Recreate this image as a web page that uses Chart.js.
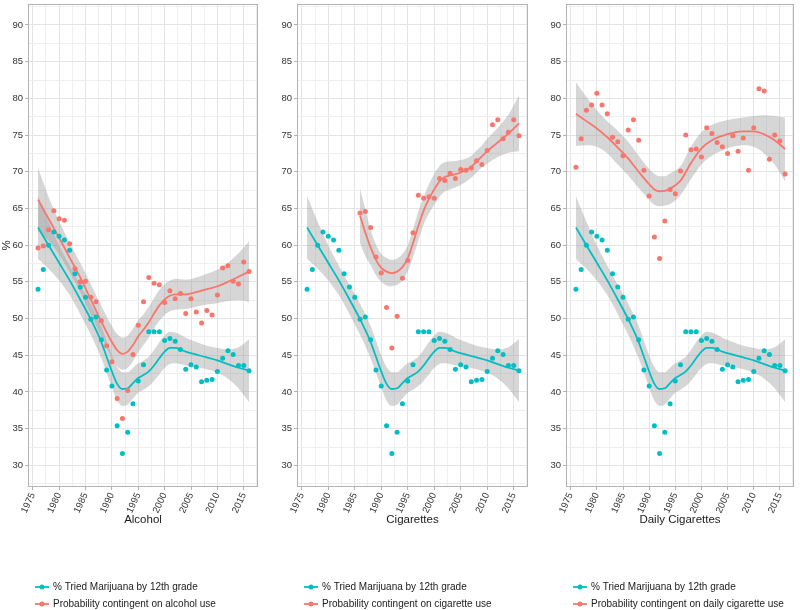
<!DOCTYPE html>
<html>
<head>
<meta charset="utf-8">
<script src="https://cdn.jsdelivr.net/npm/chart.js@4.4.1/dist/chart.umd.min.js"></script>
<style>
  html, body { margin: 0; padding: 0; background: #fff; }
  #wrap { position: relative; width: 800px; height: 610px; }
  #wrap canvas { position: absolute; top: 0; }
</style>
</head>
<body>
<div id="wrap">
  <canvas id="alcohol" width="262" height="610" style="left:0px"></canvas>
  <canvas id="cigarettes" width="264" height="610" style="left:268px"></canvas>
  <canvas id="daily" width="264" height="610" style="left:536px"></canvas>
</div>
<script>
// ---- data ----
const years = [1976, 1977, 1978, 1979, 1980, 1981, 1982, 1983, 1984, 1985, 1986, 1987, 1988, 1989, 1990,
  1991, 1992, 1993, 1994, 1995, 1996, 1997, 1998, 1999, 2000, 2001, 2002, 2003, 2004, 2005, 2006, 2007,
  2008, 2009, 2010, 2011, 2012, 2013, 2014, 2015, 2016];

const triedMarijuana = [54.0, 56.7, 60.0, 61.8, 61.2, 60.7, 59.3, 56.1, 54.3, 52.9, 49.9, 50.2, 47.1, 43.0, 40.8,
  35.4, 31.6, 34.5, 38.4, 41.5, 43.7, 48.2, 48.2, 48.2, 47.0, 47.3, 46.9, 45.8, 43.1, 43.7, 43.4, 41.4,
  41.6, 41.7, 42.8, 44.6, 45.6, 45.1, 43.6, 43.6, 42.9];

const alcoholProb = [59.6, 59.9, 62.1, 64.7, 63.6, 63.4, 60.2, 56.8, 55.0, 55.1, 52.9, 52.3, 49.7, 46.3, 44.1,
  39.1, 36.4, 40.2, 45.1, 49.1, 52.3, 55.6, 54.8, 54.6, 52.2, 53.8, 52.7, 53.4, 50.7, 52.7, 50.9, 49.4,
  51.1, 50.5, 53.2, 56.9, 57.2, 55.1, 54.7, 57.7, 56.4];

const cigaretteYears = [1986, 1987, 1988, 1989, 1990, 1991, 1992, 1993, 1994, 1995, 1996, 1997, 1998, 1999, 2000,
  2001, 2002, 2003, 2004, 2005, 2006, 2007, 2008, 2009, 2010, 2011, 2012, 2013, 2014, 2015, 2016];
const cigaretteProb = [64.4, 64.6, 62.4, 58.4, 56.2, 51.5, 46.0, 50.3, 55.5, 57.9, 61.7, 66.8, 66.4, 66.6, 66.4,
  69.1, 68.8, 69.8, 69.1, 70.3, 70.2, 70.5, 71.5, 71.0, 72.9, 76.4, 77.1, 74.5, 75.4, 77.1, 74.9];

const dailyProb = [70.6, 74.5, 78.4, 79.1, 80.7, 79.1, 77.9, 74.7, 74.1, 72.2, 75.7, 77.1, 74.3, 70.2, 66.7,
  61.1, 58.2, 63.3, 67.6, 67.0, 70.1, 75.0, 73.0, 73.1, 72.0, 76.0, 75.2, 74.0, 73.4, 72.5, 74.9, 72.8,
  74.6, 70.2, 76.0, 81.3, 81.0, 71.7, 75.0, 74.2, 69.7];

// loess fits and their confidence bands
const tealFitYears = [1976, 1978, 1980, 1982, 1984, 1986, 1988, 1989, 1990, 1991, 1992, 1993, 1994, 1995, 1996,
  1997, 1998, 1999, 2000, 2001, 2002, 2003, 2004, 2006, 2008, 2010, 2012, 2014, 2016];
const tealFit = [62.4, 60.0, 57.6, 55.2, 52.6, 49.9, 46.8, 44.8, 42.8, 41.1, 40.4, 40.5, 41.2, 41.9, 42.3,
  42.8, 43.6, 44.6, 45.5, 46.0, 46.0, 45.8, 45.5, 45.1, 44.7, 44.3, 43.8, 43.3, 42.9];
const tealLow = [58.1, 56.8, 55.2, 53.2, 50.6, 47.8, 44.6, 42.6, 40.6, 38.8, 38.1, 38.3, 39.1, 39.9, 40.3,
  40.8, 41.5, 42.4, 43.3, 43.8, 43.9, 43.8, 43.6, 43.4, 43.1, 42.6, 41.8, 40.5, 38.6];
const tealHigh = [66.7, 63.2, 60.0, 57.2, 54.6, 52.0, 49.0, 47.0, 45.0, 43.4, 42.7, 42.7, 43.3, 43.9, 44.3,
  44.8, 45.7, 46.8, 47.7, 48.2, 48.1, 47.8, 47.4, 46.8, 46.3, 46.0, 45.8, 46.1, 47.2];

const alcoholFitYears = [1976, 1978, 1980, 1982, 1984, 1986, 1988, 1990, 1991, 1992, 1993, 1994, 1995, 1996,
  1997, 1998, 1999, 2000, 2001, 2002, 2004, 2006, 2008, 2010, 2012, 2014, 2016];
const alcoholFit = [66.2, 63.6, 61.0, 58.3, 55.6, 52.6, 49.6, 46.8, 45.7, 45.2, 45.5, 46.4, 47.6, 48.5,
  49.5, 50.7, 51.8, 52.6, 53.1, 53.3, 53.3, 53.6, 54.0, 54.4, 55.0, 55.7, 56.4];
const alcoholLow = [61.9, 60.6, 58.7, 56.3, 53.6, 50.5, 47.5, 44.6, 43.5, 43.0, 43.3, 44.2, 45.4, 46.4,
  47.4, 48.6, 49.7, 50.5, 51.0, 51.2, 51.3, 51.6, 51.9, 52.1, 52.4, 52.5, 52.3];
const alcoholHigh = [70.5, 66.6, 63.3, 60.3, 57.6, 54.7, 51.7, 49.0, 47.9, 47.4, 47.7, 48.6, 49.8, 50.6,
  51.6, 52.8, 53.9, 54.7, 55.2, 55.4, 55.3, 55.6, 56.1, 56.7, 57.6, 58.9, 60.5];

const cigFitYears = [1986, 1987, 1988, 1989, 1990, 1991, 1992, 1993, 1994, 1995, 1996, 1997, 1998, 1999, 2000,
  2001, 2002, 2003, 2005, 2007, 2008, 2009, 2010, 2012, 2014, 2016];
const cigFit = [64.0, 61.7, 59.7, 58.0, 56.9, 56.4, 56.2, 56.4, 57.0, 58.2, 60.3, 62.6, 64.7, 66.3, 67.6,
  68.7, 69.3, 69.5, 69.9, 70.7, 71.4, 72.1, 72.8, 74.0, 75.2, 76.6];
const cigLow = [60.3, 58.5, 57.3, 55.9, 55.0, 54.5, 54.4, 54.6, 55.2, 56.4, 58.4, 60.6, 62.8, 64.3, 65.5,
  66.6, 67.3, 67.6, 68.2, 69.2, 69.9, 70.6, 71.1, 72.0, 72.6, 72.8];
const cigHigh = [67.7, 64.9, 62.1, 60.1, 58.8, 58.3, 58.0, 58.2, 58.8, 60.0, 62.2, 64.6, 66.6, 68.3, 69.7,
  70.8, 71.3, 71.4, 71.6, 72.2, 72.9, 73.6, 74.5, 76.0, 77.8, 80.4];

const dailyFitYears = [1976, 1978, 1980, 1982, 1984, 1986, 1988, 1990, 1991, 1992, 1993, 1994, 1996, 1998,
  2000, 2002, 2004, 2006, 2008, 2010, 2012, 2014, 2016];
const dailyFit = [77.9, 76.9, 75.9, 74.7, 73.3, 71.8, 70.0, 68.3, 67.6, 67.35, 67.4, 67.7, 68.8, 71.2,
  73.2, 74.3, 74.9, 75.3, 75.5, 75.5, 75.1, 74.3, 73.1];
const dailyLow = [73.5, 73.6, 73.4, 72.5, 71.0, 69.5, 67.8, 66.2, 65.5, 65.3, 65.4, 65.6, 66.8, 69.0,
  71.0, 72.2, 72.9, 73.4, 73.6, 73.4, 72.5, 71.0, 68.7];
const dailyHigh = [82.2, 80.2, 78.4, 76.9, 75.6, 74.1, 72.2, 70.4, 69.7, 69.4, 69.4, 69.8, 70.8, 73.4,
  75.4, 76.4, 76.9, 77.2, 77.4, 77.6, 77.7, 77.6, 77.4];

const xTickLabels = [1975, 1980, 1985, 1990, 1995, 2000, 2005, 2010, 2015];
const yTickLabels = [30, 35, 40, 45, 50, 55, 60, 65, 70, 75, 80, 85, 90];

// ---- styling ----
const TEAL = '#00BFC4';
const SALMON = '#F8766D';
const BAND = 'rgba(153,153,153,0.4)';
const FONT = "'Liberation Sans', Arial, sans-serif";
const NONE = 'rgba(0,0,0,0)';

// major ticks plus the minor lines half way between them
const xGrid = [];
xTickLabels.forEach(v => { xGrid.push(v, v + 2.5); });
const yGrid = [27.5];
yTickLabels.forEach(v => { yGrid.push(v, v + 2.5); });

function pts(xs, ys) {
  return xs.map((x, i) => ({ x: x, y: ys[i] }));
}

const panelBorder = {
  id: 'panelBorder',
  afterDatasetsDraw(chart) {
    const a = chart.chartArea;
    const ctx = chart.ctx;
    ctx.save();
    ctx.strokeStyle = '#b3b3b3';
    ctx.lineWidth = 1;
    ctx.strokeRect(Math.round(a.left) + 0.5, Math.round(a.top) + 0.5,
      Math.round(a.right - a.left) - 1, Math.round(a.bottom - a.top) - 1);
    ctx.restore();
  }
};

// ggplot-like legend: line key with a dot, one item per row
const facetLegend = {
  id: 'facetLegend',
  afterDraw(chart, args, opts) {
    const ctx = chart.ctx;
    const x0 = chart.chartArea.left + opts.offsetX;
    ctx.save();
    ctx.font = opts.font;
    ctx.textBaseline = 'middle';
    opts.items.forEach((it, i) => {
      const y = opts.top + i * opts.rowGap;
      ctx.strokeStyle = it.color;
      ctx.lineWidth = 1.8;
      ctx.beginPath();
      ctx.moveTo(x0, y);
      ctx.lineTo(x0 + 14, y);
      ctx.stroke();
      ctx.fillStyle = it.color;
      ctx.beginPath();
      ctx.arc(x0 + 7, y, 2.5, 0, Math.PI * 2);
      ctx.fill();
      ctx.fillStyle = '#1a1a1a';
      ctx.fillText(it.text, x0 + 18, y);
    });
    ctx.restore();
  }
};

function lineSet(xs, ys, color) {
  return {
    data: pts(xs, ys), borderColor: color, borderWidth: 1.8, pointRadius: 0,
    cubicInterpolationMode: 'monotone', fill: false
  };
}

function bandSet(xs, ys, fillTarget) {
  return {
    data: pts(xs, ys), borderColor: NONE, borderWidth: 0, pointRadius: 0,
    backgroundColor: BAND, cubicInterpolationMode: 'monotone',
    fill: fillTarget === null ? false : { target: fillTarget }
  };
}

function pointSet(xs, ys, color) {
  return {
    data: pts(xs, ys), showLine: false, pointRadius: 2.5, pointBorderWidth: 0,
    pointBackgroundColor: color, borderColor: color, backgroundColor: color
  };
}

function makePanel(id, cfg) {
  // the first dataset is drawn on top
  const datasets = [
    pointSet(years, triedMarijuana, TEAL),
    pointSet(cfg.probYears, cfg.prob, SALMON),
    lineSet(tealFitYears, tealFit, TEAL),
    lineSet(cfg.fitYears, cfg.fit, SALMON),
    bandSet(tealFitYears, tealLow, null),
    bandSet(tealFitYears, tealHigh, 4),
    bandSet(cfg.fitYears, cfg.low, null),
    bandSet(cfg.fitYears, cfg.high, 6)
  ];

  new Chart(document.getElementById(id), {
    type: 'line',
    data: { datasets: datasets },
    plugins: [panelBorder, facetLegend],
    options: {
      responsive: false,
      animation: false,
      layout: { padding: { top: 3, right: cfg.padRight, bottom: 83, left: 0 } },
      plugins: {
        legend: { display: false },
        tooltip: { enabled: false },
        facetLegend: {
          items: [
            { text: '% Tried Marijuana by 12th grade', color: TEAL },
            { text: cfg.legend, color: SALMON }
          ],
          offsetX: 7, top: 587, rowGap: 17, font: '10px ' + FONT
        }
      },
      scales: {
        x: {
          type: 'linear', min: 1974.1, max: 2017.7,
          afterBuildTicks: s => { s.ticks = xGrid.map(v => ({ value: v })); },
          afterFit: s => { s.height = 40; s.paddingLeft = 0; s.paddingRight = 0; },
          border: { display: false },
          grid: {
            color: c => xTickLabels.includes(c.tick.value) ? '#e4e4e4' : '#efefef',
            tickColor: c => xTickLabels.includes(c.tick.value) ? '#b3b3b3' : NONE,
            tickLength: 3, lineWidth: 1
          },
          ticks: {
            autoSkip: false, minRotation: 65, maxRotation: 65, padding: 1,
            color: '#333', font: { family: FONT, size: 9.5 },
            callback: v => xTickLabels.includes(v) ? String(v) : ''
          },
          title: {
            display: true, text: cfg.title, color: '#1a1a1a',
            font: { family: FONT, size: 11.5 }, padding: { top: 0, bottom: 0 }
          }
        },
        y: {
          type: 'linear', min: 27.05, max: 92.86,
          afterBuildTicks: s => { s.ticks = yGrid.map(v => ({ value: v })); },
          afterFit: s => { s.width = cfg.yWidth; s.paddingTop = 0; s.paddingBottom = 0; },
          border: { display: false },
          grid: {
            color: c => yTickLabels.includes(c.tick.value) ? '#e4e4e4' : '#efefef',
            tickColor: c => yTickLabels.includes(c.tick.value) ? '#b3b3b3' : NONE,
            tickLength: 3, lineWidth: 1
          },
          ticks: {
            padding: 2, color: '#333', font: { family: FONT, size: 9.5 },
            callback: v => yTickLabels.includes(v) ? String(v) : ''
          },
          title: {
            display: cfg.yTitle !== '', text: cfg.yTitle, color: '#1a1a1a',
            font: { family: FONT, size: 11.5 }, padding: { top: 0, bottom: 0 }
          }
        }
      }
    }
  });
}

makePanel('alcohol', {
  title: 'Alcohol', legend: 'Probability contingent on alcohol use', yTitle: '%',
  yWidth: 28, padRight: 3,
  probYears: years, prob: alcoholProb,
  fitYears: alcoholFitYears, fit: alcoholFit, low: alcoholLow, high: alcoholHigh
});

makePanel('cigarettes', {
  title: 'Cigarettes', legend: 'Probability contingent on cigarette use', yTitle: '',
  yWidth: 29, padRight: 3,
  probYears: cigaretteYears, prob: cigaretteProb,
  fitYears: cigFitYears, fit: cigFit, low: cigLow, high: cigHigh
});

makePanel('daily', {
  title: 'Daily Cigarettes', legend: 'Probability contingent on daily cigarette use', yTitle: '',
  yWidth: 30, padRight: 6,
  probYears: years, prob: dailyProb,
  fitYears: dailyFitYears, fit: dailyFit, low: dailyLow, high: dailyHigh
});
</script>
</body>
</html>
